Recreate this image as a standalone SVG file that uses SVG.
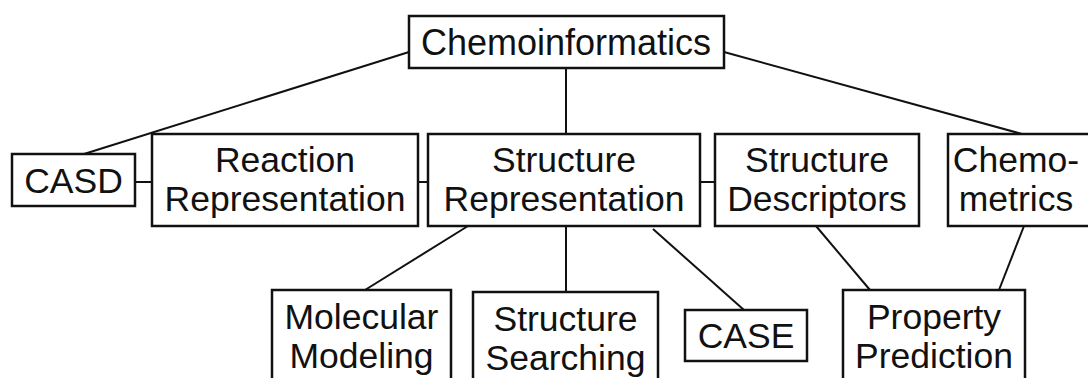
<svg xmlns="http://www.w3.org/2000/svg" width="1088" height="378" viewBox="0 0 1088 378">
<style>
.box{fill:#fff;stroke:#111;stroke-width:2.5}
.t{font-family:"Liberation Sans",Arial,sans-serif;font-size:35.5px;fill:#111;text-anchor:middle}
.c{stroke:#111;stroke-width:2;fill:none}
</style>
<rect width="1088" height="378" fill="#fff"/>
<g id="connectors">
<line class="c" x1="409" y1="52" x2="84" y2="154"/>
<line class="c" x1="724" y1="52" x2="1022" y2="134"/>
<line class="c" x1="566" y1="68" x2="566" y2="134"/>
<line class="c" x1="135" y1="182" x2="152" y2="182"/>
<line class="c" x1="418" y1="182" x2="428" y2="182"/>
<line class="c" x1="700" y1="182" x2="715" y2="182"/>
<line class="c" x1="468" y1="226" x2="365" y2="290"/>
<line class="c" x1="566" y1="226" x2="566" y2="292"/>
<line class="c" x1="653" y1="229" x2="744" y2="310"/>
<line class="c" x1="816" y1="226" x2="870" y2="290"/>
<line class="c" x1="1024" y1="226" x2="999" y2="290"/>
</g>
<g id="chemoinformatics"><rect class="box" x="409" y="16" width="315" height="52"/><text class="t" x="566" y="55" style="font-size:36px">Chemoinformatics</text></g>
<g id="casd"><rect class="box" x="12" y="154" width="123" height="52"/><text class="t" x="73.5" y="193">CASD</text></g>
<g id="reaction"><rect class="box" x="152" y="134" width="266" height="92"/><text class="t" x="285" y="172">Reaction</text><text class="t" x="285" y="211">Representation</text></g>
<g id="structrep"><rect class="box" x="428" y="134" width="272" height="92"/><text class="t" x="564" y="172">Structure</text><text class="t" x="564" y="211">Representation</text></g>
<g id="descriptors"><rect class="box" x="715" y="134" width="204" height="92"/><text class="t" x="817" y="172">Structure</text><text class="t" x="817" y="211">Descriptors</text></g>
<g id="chemometrics"><rect class="box" x="948" y="134" width="142" height="92"/><text class="t" x="1016" y="172">Chemo-</text><text class="t" x="1016" y="211">metrics</text></g>
<g id="molmod"><rect class="box" x="272" y="290" width="179" height="95"/><text class="t" x="361.5" y="329">Molecular</text><text class="t" x="361.5" y="368">Modeling</text></g>
<g id="search"><rect class="box" x="473" y="292" width="185" height="95"/><text class="t" x="565.5" y="331">Structure</text><text class="t" x="565.5" y="370">Searching</text></g>
<g id="case"><rect class="box" x="685" y="310" width="122" height="51"/><text class="t" x="746" y="348">CASE</text></g>
<g id="property"><rect class="box" x="843" y="290" width="182" height="95"/><text class="t" x="934" y="329">Property</text><text class="t" x="934" y="368">Prediction</text></g>
</svg>
